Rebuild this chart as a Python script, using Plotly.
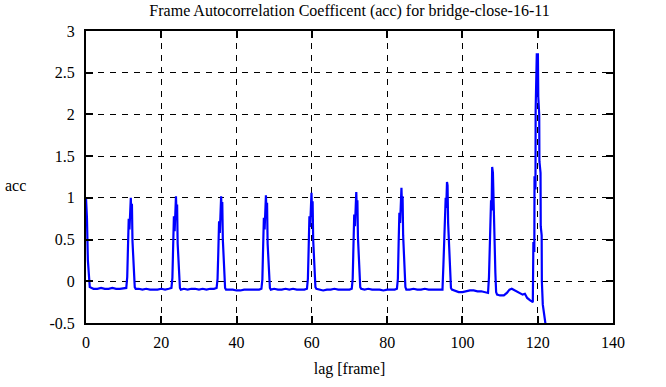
import plotly.graph_objects as go

# lag values [frame] and autocorrelation coefficient values
lag = [
    0, 0.25, 0.5, 0.75, 1.0, 1.5, 2, 3, 4, 5, 6, 7, 8, 9, 10, 10.7,
    10.95, 11.15, 11.35, 11.55, 11.7, 11.9, 12.05, 12.2, 12.35, 12.55, 12.75, 12.95, 13.2,
    14, 15, 16, 17, 18, 19, 20, 21, 22, 22.7,
    22.95, 23.15, 23.35, 23.55, 23.7, 23.9, 24.05, 24.2, 24.35, 24.55, 24.75, 24.95, 25.2,
    26, 27, 28, 29, 30, 31, 32, 33, 34, 34.7,
    34.95, 35.15, 35.35, 35.55, 35.7, 35.9, 36.05, 36.2, 36.35, 36.55, 36.75, 36.95, 37.2,
    38, 39, 40, 41, 42, 43, 44, 45, 46, 46.6,
    46.85, 47.05, 47.25, 47.45, 47.6, 47.8, 47.95, 48.1, 48.25, 48.45, 48.65, 48.85, 49.1,
    50, 51, 52, 53, 54, 55, 56, 57, 58, 58.7,
    58.95, 59.15, 59.35, 59.55, 59.7, 59.9, 60.05, 60.2, 60.35, 60.55, 60.75, 60.95, 61.2,
    62, 63, 64, 65, 66, 67, 68, 69, 70, 70.6,
    70.85, 71.05, 71.25, 71.45, 71.6, 71.8, 71.95, 72.1, 72.25, 72.45, 72.65, 72.85, 73.1,
    74, 75, 76, 77, 78, 79, 80, 81, 82, 82.6,
    82.85, 83.05, 83.25, 83.45, 83.6, 83.8, 83.95, 84.1, 84.25, 84.45, 84.65, 84.85, 85.1,
    86, 87, 88, 89, 90, 91, 92, 93, 94, 94.7,
    94.95, 95.15, 95.35, 95.55, 95.7, 95.9, 96.05, 96.2, 96.35, 96.55, 96.75, 96.95, 97.2,
    98, 99, 100, 101, 102, 103, 104, 105, 106, 106.8,
    107.05, 107.25, 107.4, 107.6, 107.75, 107.9, 108.1, 108.25, 108.4, 108.55, 108.75, 108.95, 109.2,
    110, 111, 111.8, 112.5, 113.1, 114, 115, 116, 116.6, 117.2, 118, 118.7,
    118.85, 119.1, 119.15, 119.4, 119.45, 119.75, 120.05, 120.15, 120.4, 120.45,
    120.75, 120.8, 121.05, 121.1, 121.35, 121.7, 122.0, 122.3,
]
acc = [
    1.0, 0.76, 0.25, 0.02, -0.07, -0.08, -0.09, -0.09, -0.08, -0.09, -0.09, -0.08, -0.09, -0.09, -0.08, -0.08,
    0.05, 0.42, 0.75, 0.62, 0.93, 1.00, 0.78, 0.93, 0.48, 0.32, 0.03, -0.07, -0.09,
    -0.09, -0.10, -0.09, -0.10, -0.10, -0.10, -0.09, -0.10, -0.09, -0.08,
    0.04, 0.38, 0.78, 0.60, 0.95, 1.02, 0.80, 0.92, 0.45, 0.28, 0.02, -0.08, -0.10,
    -0.09, -0.10, -0.09, -0.09, -0.10, -0.09, -0.10, -0.09, -0.09, -0.08,
    0.03, 0.35, 0.72, 0.58, 0.90, 1.02, 0.82, 0.95, 0.50, 0.30, 0.02, -0.08, -0.10,
    -0.10, -0.10, -0.11, -0.11, -0.10, -0.10, -0.10, -0.10, -0.10, -0.09,
    0.02, 0.40, 0.76, 0.62, 0.92, 1.03, 0.80, 0.94, 0.45, 0.25, 0.00, -0.08, -0.10,
    -0.09, -0.10, -0.10, -0.09, -0.10, -0.09, -0.10, -0.10, -0.10, -0.09,
    0.03, 0.40, 0.78, 0.65, 0.95, 1.06, 0.83, 0.96, 0.50, 0.28, 0.01, -0.07, -0.09,
    -0.10, -0.11, -0.10, -0.10, -0.09, -0.10, -0.10, -0.10, -0.10, -0.09,
    0.03, 0.42, 0.80, 0.66, 0.97, 1.07, 0.86, 0.97, 0.52, 0.30, 0.02, -0.07, -0.09,
    -0.10, -0.09, -0.10, -0.10, -0.10, -0.11, -0.10, -0.10, -0.10, -0.09,
    0.03, 0.45, 0.82, 0.70, 1.00, 1.12, 0.88, 1.02, 0.55, 0.30, 0.02, -0.07, -0.10,
    -0.10, -0.09, -0.10, -0.10, -0.09, -0.10, -0.10, -0.10, -0.10, -0.10,
    0.20, 0.55, 0.75, 1.00, 0.88, 1.19, 1.15, 0.70, 0.50, 0.21, 0.02, -0.08, -0.10,
    -0.11, -0.13, -0.13, -0.12, -0.11, -0.11, -0.12, -0.12, -0.13, -0.14,
    0.05, 0.33, 0.67, 0.97, 0.85, 1.37, 1.30, 0.95, 0.68, 0.35, 0.10, -0.13, -0.16,
    -0.17, -0.17, -0.14, -0.10, -0.09, -0.11, -0.14, -0.16, -0.15, -0.20, -0.23, -0.25,
    0.47, 0.35, 1.26, 1.10, 2.05, 2.72, 2.72, 2.21, 2.00, 1.44,
    1.30, 0.66, 0.55, 0.00, -0.28, -0.37, -0.49, -0.60,
]

x_ticks = [0, 20, 40, 60, 80, 100, 120, 140]
y_ticks = [-0.5, 0, 0.5, 1, 1.5, 2, 2.5, 3]
y_tick_labels = ["-0.5", "0", "0.5", "1", "1.5", "2", "2.5", "3"]

FONT = "Liberation Serif"

fig = go.Figure()
fig.add_trace(go.Scatter(
    x=lag, y=acc, mode="lines",
    line=dict(color="#0000ff", width=2.2),
    showlegend=False, hoverinfo="skip",
))

axis_common = dict(
    showline=True, linecolor="black", linewidth=2, mirror="ticks",
    ticks="inside", ticklen=7, tickwidth=1.5, tickcolor="black",
    showgrid=True, gridcolor="black", gridwidth=1, griddash="6px,6px",
    zeroline=False,
    tickfont=dict(family=FONT, size=16, color="black"),
)

fig.update_xaxes(
    range=[0, 140], tickvals=x_ticks, ticktext=[str(v) for v in x_ticks],
    title=dict(text="lag [frame]", font=dict(family=FONT, size=16, color="black"), standoff=13),
    ticklabelstandoff=4,
    **axis_common,
)
fig.update_yaxes(
    range=[-0.5, 3], tickvals=y_ticks, ticktext=y_tick_labels,
    ticklabelstandoff=6,
    **axis_common,
)

fig.update_layout(
    width=666, height=387,
    margin=dict(l=86, r=53, t=31, b=56),
    paper_bgcolor="white", plot_bgcolor="white",
    font=dict(family=FONT, size=16, color="black"),
    title=dict(
        text="Frame Autocorrelation Coefficent (acc) for bridge-close-16-11",
        x=(86 + 613) / 2 / 666, xanchor="center",
        y=1 - 10 / 387, yanchor="middle", yref="container",
        font=dict(family=FONT, size=16, color="black"),
    ),
    annotations=[dict(
        text="acc", xref="paper", yref="paper",
        x=-71 / 527, y=(331 - 190) / 300, xanchor="center", yanchor="middle",
        showarrow=False, font=dict(family=FONT, size=16, color="black"),
    )],
)

fig.write_html(
    "out.html",
    config={"displayModeBar": False},
    post_script="document.body.style.margin='0';",
)
